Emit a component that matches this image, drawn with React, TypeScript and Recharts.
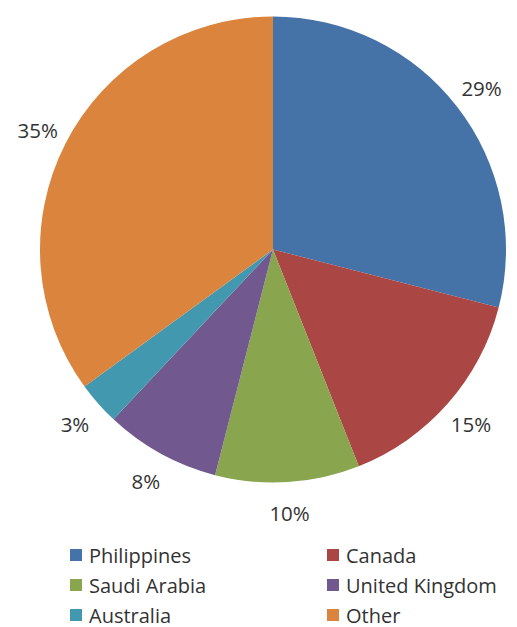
import React from 'react';
import { PieChart, Pie, Cell, Legend } from 'recharts';

const categories = ['Philippines', 'Canada', 'Saudi Arabia', 'United Kingdom', 'Australia', 'Other'];
const shares = [29, 15, 10, 8, 3, 35];
const colors = ['#4572A7', '#AA4643', '#89A54E', '#71588F', '#4198AF', '#DB843D'];

const data = categories.map((name, i) => ({ name, value: shares[i] }));

const FONT = '"Open Sans", "Liberation Sans", sans-serif';
const RAD = Math.PI / 180;

const renderLabel = (props: any) => {
  const { cx, cy, midAngle, outerRadius, value } = props;
  const r = outerRadius + 31;
  const x = cx + r * Math.cos(-midAngle * RAD);
  const y = cy + r * Math.sin(-midAngle * RAD);
  return (
    <text x={x} y={y} textAnchor="middle" dominantBaseline="central" fill="#333333" fontSize={20.5} fontFamily={FONT}>
      {`${value}%`}
    </text>
  );
};

const renderLegend = () => (
  <div style={{ position: 'relative', width: 517, height: 90, fontFamily: FONT, fontSize: 20, color: '#333333' }}>
    {categories.map((name, i) => {
      const col = i % 2;
      const row = Math.floor(i / 2);
      return (
        <div
          key={name}
          style={{ position: 'absolute', left: col === 0 ? 70 : 327, top: row * 30, display: 'flex', alignItems: 'center', height: 30, whiteSpace: 'nowrap' }}
        >
          <span style={{ display: 'inline-block', width: 12, height: 12, background: colors[i], marginRight: 7 }} />
          <span>{name}</span>
        </div>
      );
    })}
  </div>
);

export default function App() {
  return (
    <div style={{ position: 'absolute', left: 0, top: 0, width: 517, height: 627, background: '#fff' }}>
      <PieChart width={517} height={627} margin={{ top: 0, right: 0, bottom: 0, left: 0 }}>
        <Pie
          data={data}
          dataKey="value"
          nameKey="name"
          cx={273}
          cy={249.5}
          outerRadius={233}
          startAngle={90}
          endAngle={-270}
          stroke="none"
          label={renderLabel}
          labelLine={false}
          isAnimationActive={false}
        >
          {data.map((d, i) => (
            <Cell key={d.name} fill={colors[i]} />
          ))}
        </Pie>
        <Legend
          content={renderLegend}
          wrapperStyle={{ position: 'absolute', left: 0, top: 540, width: 517, height: 90 }}
        />
      </PieChart>
    </div>
  );
}
